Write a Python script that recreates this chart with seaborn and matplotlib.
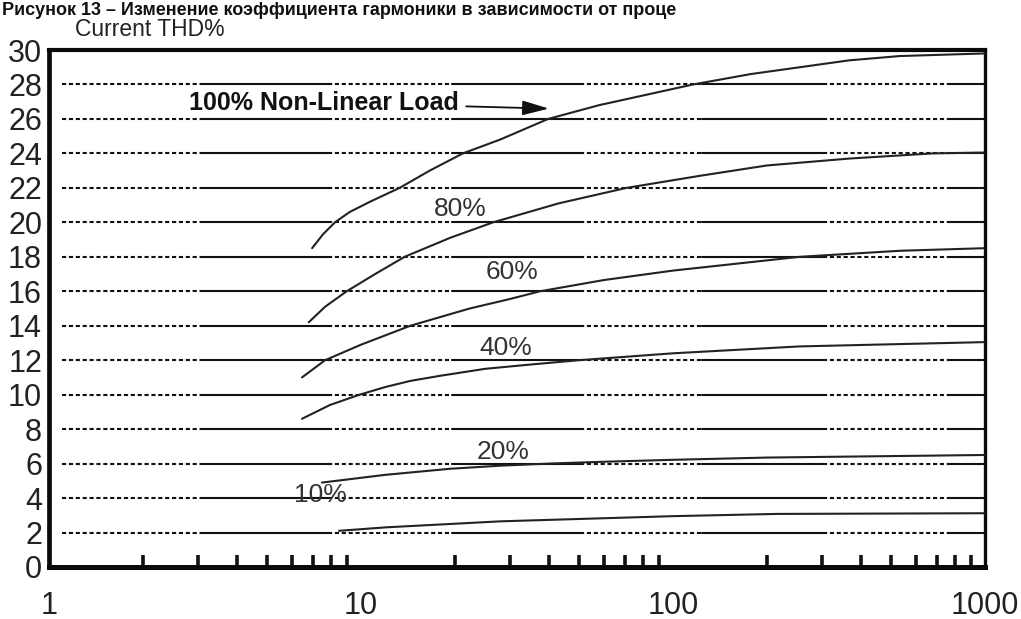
import numpy as np
import pandas as pd
import matplotlib
matplotlib.use("Agg")
import matplotlib.pyplot as plt
import seaborn as sns
from matplotlib.ticker import LogLocator, NullFormatter, FixedLocator, FixedFormatter

# ---------------- data ----------------
load_100_x = [6.97, 7.55, 8.25, 9.2, 10.7, 13.3, 16.6, 21.2, 27.9, 39.8, 58, 116, 177, 367, 534, 1000]
load_100_y = [18.5, 19.3, 20.0, 20.6, 21.2, 22.0, 23.0, 24.0, 24.8, 26.0, 26.8, 28.0, 28.6, 29.4, 29.65, 29.8]

load_80_x = [6.8, 7.67, 9.0, 11.1, 13.8, 19.3, 26.5, 43, 71, 122, 200, 367, 680, 1000]
load_80_y = [14.2, 15.1, 16.0, 17.0, 18.0, 19.1, 20.0, 21.1, 22.0, 22.7, 23.3, 23.7, 24.0, 24.05]

load_60_x = [6.47, 7.67, 10, 14.4, 22.3, 30, 37.5, 60, 100, 255, 534, 1000]
load_60_y = [11.0, 12.0, 12.9, 14.0, 15.0, 15.55, 16.0, 16.65, 17.2, 18.0, 18.35, 18.5]

load_40_x = [6.47, 7.95, 9.9, 12, 14.4, 18, 25, 35, 50, 100, 255, 1000]
load_40_y = [8.6, 9.4, 10.0, 10.45, 10.8, 11.1, 11.5, 11.75, 12.0, 12.4, 12.8, 13.05]

load_20_x = [7.5, 12, 19.3, 28, 40, 58, 100, 200, 1000]
load_20_y = [4.9, 5.35, 5.7, 5.88, 6.0, 6.1, 6.22, 6.35, 6.5]

load_10_x = [8.5, 12, 28, 100, 215, 1000]
load_10_y = [2.1, 2.3, 2.65, 2.95, 3.08, 3.12]

series_names = ["100%", "80%", "60%", "40%", "20%", "10%"]
series_x = [load_100_x, load_80_x, load_60_x, load_40_x, load_20_x, load_10_x]
series_y = [load_100_y, load_80_y, load_60_y, load_40_y, load_20_y, load_10_y]

curve_labels = ["80%", "60%", "40%", "20%", "10%"]
curve_label_x = [20.8, 30.5, 29.0, 28.5, 7.4]
curve_label_y = [20.8, 17.1, 12.7, 6.7, 4.2]

x_ticks = [1, 10, 100, 1000]
x_tick_labels = ["1", "10", "100", "1000"]
y_ticks = list(range(0, 31, 2))
y_tick_labels = [str(v) for v in y_ticks]

title_text = "Рисунок 13 – Изменение коэффициента гармоники в зависимости от проце"
ylabel_text = "Current THD%"
annot_text = "100% Non-Linear Load"

# ---------------- style ----------------
sns.set_style("white")
plt.rcParams["font.family"] = ["Liberation Sans", "DejaVu Sans"]

df = pd.concat(
    [pd.DataFrame({"load": n, "x": xs, "y": ys}) for n, xs, ys in zip(series_names, series_x, series_y)],
    ignore_index=True,
)

fig = plt.figure(figsize=(10.21, 6.19), dpi=100)
ax = fig.add_axes([49 / 1021, 52 / 619, 936 / 1021, 517 / 619])

# gridlines: alternating dashed / solid segments (axes fractions)
bounds_px = [62, 202, 328, 452, 580, 702, 823, 948, 985]
fr = [(b - 49) / 936 for b in bounds_px]
for yv in y_ticks[1:-1]:
    for i in range(len(fr) - 1):
        dashed = (i % 2 == 0)
        ax.axhline(yv, xmin=fr[i], xmax=fr[i + 1], color="#111111",
                   lw=1.5, ls=(0, (2.0, 1.3)) if dashed else "-", zorder=1)

palette = {n: "#222222" for n in series_names}
sns.lineplot(data=df, x="x", y="y", hue="load", units="load", estimator=None,
             palette=palette, sort=True, lw=1.5, legend=False, ax=ax, zorder=3)

ax.set_xscale("log")
ax.set_xlim(1, 1000)
ax.set_ylim(0, 30)
ax.set_xlabel("")
ax.set_ylabel("")

ax.xaxis.set_major_locator(FixedLocator(x_ticks))
ax.xaxis.set_major_formatter(FixedFormatter(x_tick_labels))
ax.xaxis.set_minor_locator(LogLocator(base=10, subs=np.arange(2, 10)))
ax.xaxis.set_minor_formatter(NullFormatter())
ax.tick_params(axis="x", which="major", length=0, pad=17, labelsize=22, labelcolor="#222222")
ax.tick_params(axis="x", which="minor", direction="in", length=9, width=2.6, color="#111111", bottom=True)

ax.set_yticks(y_ticks)
ax.set_yticklabels(y_tick_labels)
ax.tick_params(axis="y", which="major", direction="in", length=9, width=1.8, color="#111111",
               pad=5, labelsize=22, labelcolor="#222222")

for side, w in {"left": 3.4, "bottom": 3.6, "top": 3.0, "right": 2.4}.items():
    ax.spines[side].set_visible(True)
    ax.spines[side].set_linewidth(w)
    ax.spines[side].set_color("#0a0a0a")

# curve labels
for t, lx, ly in zip(curve_labels, curve_label_x, curve_label_y):
    ax.text(lx, ly, t, ha="center", va="center", fontsize=19, color="#333333", zorder=5)

ax.annotate(annot_text, xy=(40, 26.6), xytext=(7.6, 26.95),
            ha="center", va="center", fontsize=18, fontweight="bold", color="#111111",
            arrowprops=dict(arrowstyle="-|>,head_length=0.9,head_width=0.25", color="#111111",
                            lw=1.3, shrinkA=3, shrinkB=0), zorder=5)

fig.text(75 / 1021, 1 - 30 / 619, ylabel_text, ha="left", va="center", fontsize=16.5, color="#222222")
fig.text(0.002, 1 - 2 / 619, title_text, ha="left", va="top", fontsize=13,
         fontweight="bold", color="#111111")

fig.savefig("out.png", dpi=100)
